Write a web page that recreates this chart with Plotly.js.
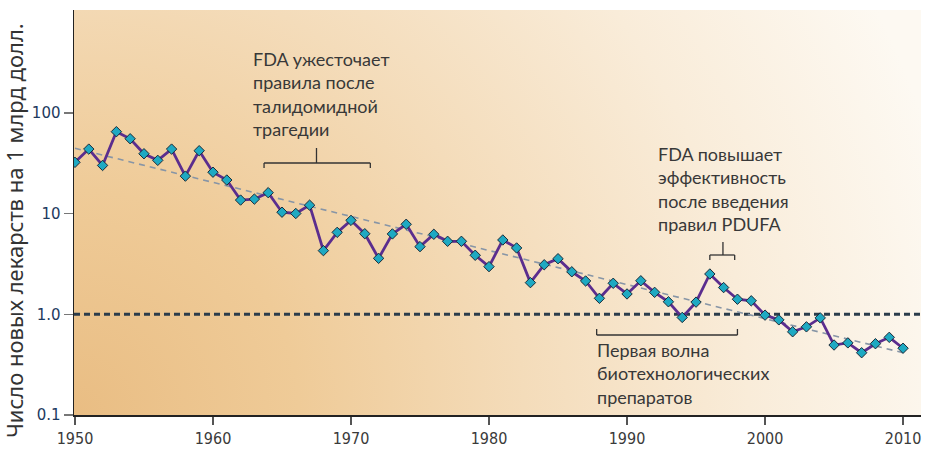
<!DOCTYPE html>
<html>
<head>
<meta charset="utf-8">
<script src="https://cdn.plot.ly/plotly-3.0.1.min.js"></script>
<style>html,body{margin:0;padding:0;background:#fff;}#chart{width:934px;height:454px;}</style>
</head>
<body>
<div id="chart"></div>
<script>
// ---- data ----
const years = [1950,1951,1952,1953,1954,1955,1956,1957,1958,1959,
               1960,1961,1962,1963,1964,1965,1966,1967,1968,1969,
               1970,1971,1972,1973,1974,1975,1976,1977,1978,1979,
               1980,1981,1982,1983,1984,1985,1986,1987,1988,1989,
               1990,1991,1992,1993,1994,1995,1996,1997,1998,1999,
               2000,2001,2002,2003,2004,2005,2006,2007,2008,2009,2010];
const drugsPerBillion = [32.2,43.6,30.0,64.9,55.2,39.2,33.7,43.6,23.5,42.0,
                         25.7,21.5,13.6,13.9,16.1,10.3,10.0,12.1,4.28,6.5,
                         8.55,6.3,3.59,6.27,7.82,4.69,6.22,5.3,5.3,3.85,
                         2.97,5.46,4.55,2.06,3.10,3.56,2.64,2.14,1.44,2.03,
                         1.59,2.15,1.65,1.33,0.93,1.32,2.51,1.84,1.41,1.36,
                         0.98,0.88,0.67,0.75,0.92,0.495,0.52,0.415,0.51,0.59,0.46];
const trendYears = [1950, 2010];
const trendValues = [44.4, 0.415];
const refYears = [1949.93, 2011.3];
const refValues = [1, 1];
const yTickVals = [0.1, 1, 10, 100];
const yTickText = ['0.1', '1.0', '10', '100'];
const yTitle = 'Число новых лекарств на 1 млрд долл.';
const note1 = 'FDA ужесточает<br>правила после<br>талидомидной<br>трагедии';
const note2 = 'FDA повышает<br>эффективность<br>после введения<br>правил PDUFA';
const note3 = 'Первая волна<br>биотехнологических<br>препаратов';
const bracket1 = [1963.7, 1967.5, 1971.4];
const bracket2 = [1996.0, 1996.95, 1997.8];
const bracket3 = [1987.8, 1998.0];

// ---- background gradient ----
const svg = "<svg xmlns='http://www.w3.org/2000/svg' width='847' height='405' viewBox='0 0 847 405' preserveAspectRatio='none'>" +
  "<defs><radialGradient id='g' gradientUnits='userSpaceOnUse' cx='0' cy='405' r='900'>" +
  "<stop offset='0' stop-color='#E9BD83'/>" +
  "<stop offset='0.25' stop-color='#EFCB98'/>" +
  "<stop offset='0.5' stop-color='#F4DCBA'/>" +
  "<stop offset='0.75' stop-color='#F9ECD9'/>" +
  "<stop offset='1' stop-color='#FDF9F2'/>" +
  "</radialGradient></defs><rect x='0' y='0' width='847' height='405' fill='url(#g)'/></svg>";
const bgSrc = 'data:image/svg+xml;charset=utf-8,' + encodeURIComponent(svg);

const annFont = {family: 'Lato, "Noto Sans", sans-serif', size: 18, color: '#383838'};
const bl = {color: '#333', width: 1.3};

// paper helpers from pixel (plot left = 74, top = 10, width 847, height 405)
const py = p => (415 - p) / 405;
const px = p => (p - 74) / 847;

const traces = [
  {x: refYears, y: refValues, mode: 'lines', type: 'scatter', hoverinfo: 'skip',
   line: {color: '#2b3c4b', width: 3, dash: '6px,4px'}},
  {x: trendYears, y: trendValues, mode: 'lines', type: 'scatter', hoverinfo: 'skip',
   line: {color: '#8795a6', width: 1.6, dash: '6px,5px'}},
  {x: years, y: drugsPerBillion, mode: 'lines+markers', type: 'scatter',
   line: {color: '#5b2d8e', width: 2.8},
   marker: {symbol: 'diamond', size: 8, color: '#1ea9c2', line: {color: '#1b2a38', width: 1}}}
];

const layout = {
  width: 934, height: 454,
  margin: {l: 74, r: 13, t: 10, b: 39},
  paper_bgcolor: '#ffffff',
  plot_bgcolor: 'rgba(0,0,0,0)',
  showlegend: false,
  xaxis: {
    range: [1949.93, 2011.3], dtick: 10, tick0: 1950,
    showgrid: false, zeroline: false,
    showline: true, linecolor: '#222', linewidth: 1.5,
    ticks: 'outside', ticklen: 8, tickcolor: '#555', tickwidth: 1.2,
    tickfont: {family: '"Liberation Sans Narrow", "DejaVu Sans Condensed", sans-serif', size: 16, color: '#3a3a3a'}
  },
  yaxis: {
    type: 'log', range: [-1, 3.02],
    tickvals: yTickVals, ticktext: yTickText,
    showgrid: false, zeroline: false,
    showline: true, linecolor: '#222', linewidth: 1.5,
    ticks: 'outside', ticklen: 9, tickcolor: '#777', tickwidth: 1.5,
    tickfont: {family: '"DejaVu Sans", Verdana, sans-serif', size: 15, color: '#1d3a5e'}
  },
  images: [{source: bgSrc, xref: 'paper', yref: 'paper', x: 0, y: 1, sizex: 1, sizey: 1,
            xanchor: 'left', yanchor: 'top', sizing: 'stretch', layer: 'below'}],
  shapes: [
    // bracket 1
    {type: 'line', xref: 'x', yref: 'paper', x0: bracket1[0], x1: bracket1[2], y0: py(163), y1: py(163), line: bl},
    {type: 'line', xref: 'x', yref: 'paper', x0: bracket1[0], x1: bracket1[0], y0: py(163), y1: py(168), line: bl},
    {type: 'line', xref: 'x', yref: 'paper', x0: bracket1[2], x1: bracket1[2], y0: py(163), y1: py(168), line: bl},
    {type: 'line', xref: 'x', yref: 'paper', x0: bracket1[1], x1: bracket1[1], y0: py(163), y1: py(148), line: bl},
    // bracket 2
    {type: 'line', xref: 'x', yref: 'paper', x0: bracket2[0], x1: bracket2[2], y0: py(255), y1: py(255), line: bl},
    {type: 'line', xref: 'x', yref: 'paper', x0: bracket2[0], x1: bracket2[0], y0: py(255), y1: py(260), line: bl},
    {type: 'line', xref: 'x', yref: 'paper', x0: bracket2[2], x1: bracket2[2], y0: py(255), y1: py(260), line: bl},
    {type: 'line', xref: 'x', yref: 'paper', x0: bracket2[1], x1: bracket2[1], y0: py(255), y1: py(242), line: bl},
    // bracket 3
    {type: 'line', xref: 'x', yref: 'paper', x0: bracket3[0], x1: bracket3[1], y0: py(335), y1: py(335), line: bl},
    {type: 'line', xref: 'x', yref: 'paper', x0: bracket3[0], x1: bracket3[0], y0: py(335), y1: py(329), line: bl},
    {type: 'line', xref: 'x', yref: 'paper', x0: bracket3[1], x1: bracket3[1], y0: py(335), y1: py(329), line: bl}
  ],
  annotations: [
    {text: yTitle, xref: 'paper', yref: 'paper', x: px(14), y: py(231), xanchor: 'center', yanchor: 'middle',
     textangle: -90, showarrow: false, font: {family: '"Noto Sans", sans-serif', size: 22, color: '#333'}},
    {text: note1, xref: 'paper', yref: 'paper', x: px(251), y: py(46), xanchor: 'left', yanchor: 'top',
     align: 'left', showarrow: false, font: annFont},
    {text: note2, xref: 'paper', yref: 'paper', x: px(656), y: py(141), xanchor: 'left', yanchor: 'top',
     align: 'left', showarrow: false, font: annFont},
    {text: note3, xref: 'paper', yref: 'paper', x: px(595), y: py(337), xanchor: 'left', yanchor: 'top',
     align: 'left', showarrow: false, font: annFont}
  ]
};

Plotly.newPlot('chart', traces, layout, {displayModeBar: false, staticPlot: true});
</script>
</body>
</html>
